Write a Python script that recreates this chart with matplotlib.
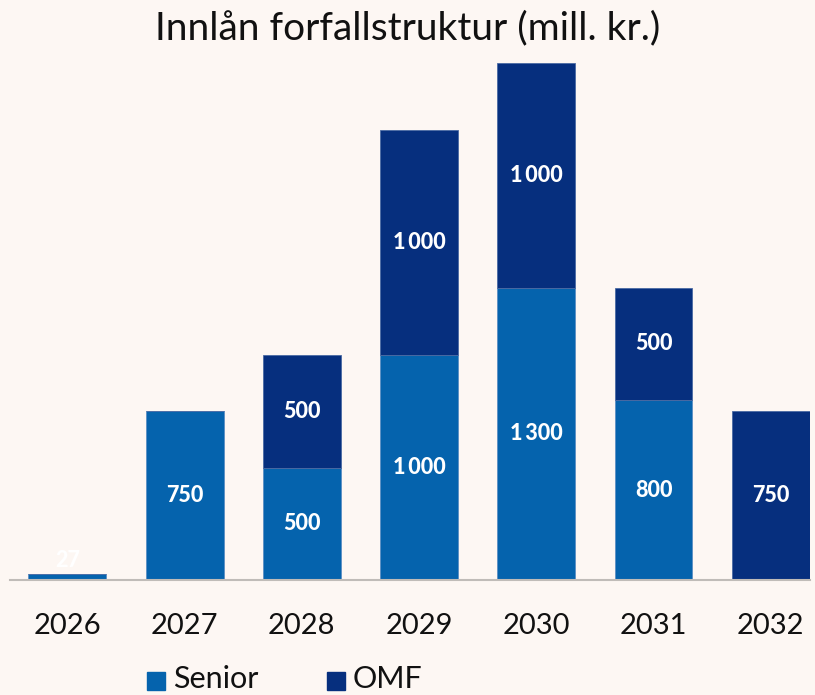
import matplotlib
matplotlib.use("Agg")
import matplotlib.pyplot as plt
from matplotlib.patches import Rectangle

years = ["2026", "2027", "2028", "2029", "2030", "2031", "2032"]
senior = [27, 750, 500, 1000, 1300, 800, 0]
omf = [0, 0, 500, 1000, 1000, 500, 750]

BG = "#FDF7F3"
C_SENIOR = "#0563AD"
C_OMF = "#062F7E"
FONT = ["Lato", "DejaVu Sans"]

W, H = 815, 695
fig = plt.figure(figsize=(W / 100, H / 100), dpi=100, facecolor=BG)

x0, x1 = 10, 810
ytop, ybot = 63, 580
ax = fig.add_axes([x0 / W, 1 - ybot / H, (x1 - x0) / W, (ybot - ytop) / H])
ax.set_facecolor(BG)

xs = list(range(len(years)))
bw = 0.665
ax.bar(xs, senior, width=bw, color=C_SENIOR, edgecolor="#5b8fc4", linewidth=0.6)
ax.bar(xs, omf, width=bw, bottom=senior, color=C_OMF, edgecolor="#4a6aa3", linewidth=0.6)

def fmt(v):
    return f"{v:,}".replace(",", "\u2009")

LS = 15.5
LW = "black"
for i in xs:
    if senior[i] > 0:
        if senior[i] < 100:
            ax.text(i, senior[i] + 60, fmt(senior[i]), ha="center", va="center",
                    color="white", fontsize=LS, fontweight=LW, family=FONT)
        else:
            ax.text(i, senior[i] / 2, fmt(senior[i]), ha="center", va="center",
                    color="white", fontsize=LS, fontweight=LW, family=FONT)
    if omf[i] > 0:
        ax.text(i, senior[i] + omf[i] / 2, fmt(omf[i]), ha="center", va="center",
                color="white", fontsize=LS, fontweight=LW, family=FONT)

ax.set_xlim(-0.49, 6.335)
ax.set_ylim(0, 2300)
for s in ["top", "right", "left"]:
    ax.spines[s].set_visible(False)
ax.spines["bottom"].set_color("#c0bcb8")
ax.spines["bottom"].set_linewidth(1.5)
ax.set_yticks([])
ax.set_xticks(xs)
ax.set_xticklabels(years, fontsize=21, family=FONT, color="#111111")
ax.tick_params(axis="x", length=0, pad=24)

fig.text(0.5, 1 - 28 / H, "Innlån forfallstruktur (mill. kr.)", ha="center", va="center",
         fontsize=28, family=FONT, color="#111111")

# legend
sq = 18
for (lx, label, col) in [(147, "Senior", C_SENIOR), (327, "OMF", C_OMF)]:
    fig.patches.append(Rectangle((lx / W, 1 - 690 / H), sq / W, sq / H,
                                 transform=fig.transFigure, color=col))
    fig.text((lx + sq + 8) / W, 1 - 679 / H, label, ha="left", va="center",
             fontsize=22, family=FONT, color="#111111")

fig.savefig("out.png", dpi=100, facecolor=BG)
